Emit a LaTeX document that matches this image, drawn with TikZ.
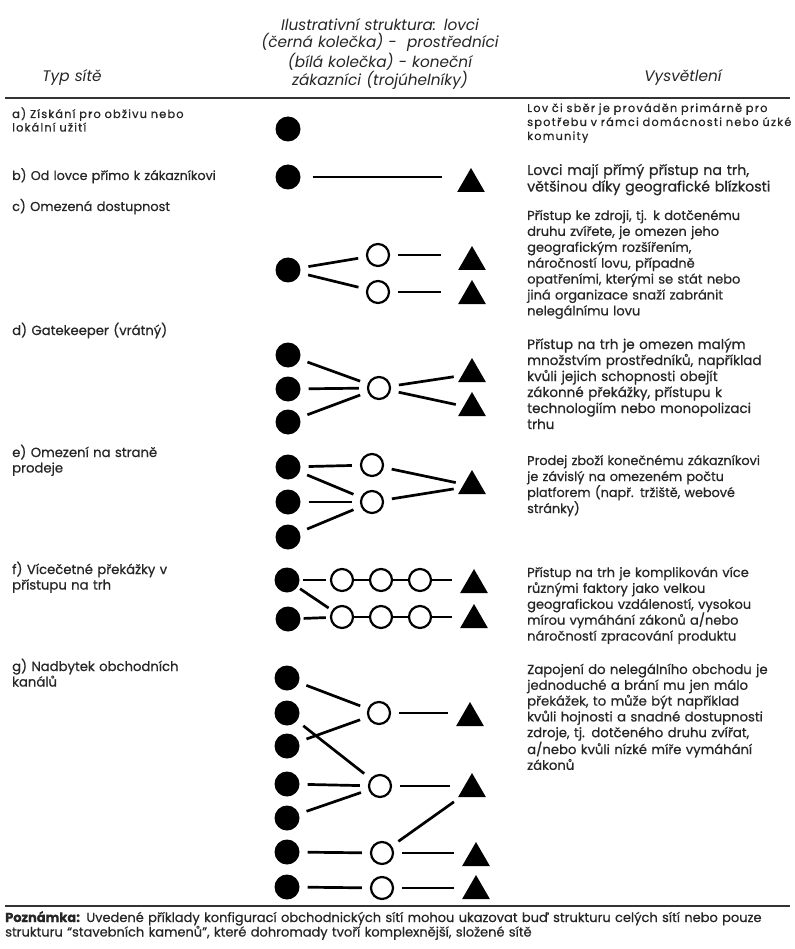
\documentclass[tikz,border=0pt]{standalone}
\usepackage{fontspec}
\setmainfont{Poppins}[FakeBold=0.6]
\newfontfamily\headfont{Poppins}
\usetikzlibrary{shapes.geometric}

\begin{document}
\begin{tikzpicture}[x=1pt,y=-1pt]
    \tikzset{hunter/.style = {shape=circle, fill=black, minimum size=25pt, inner sep=0pt}}
    \tikzset{broker/.style = {shape=circle, draw, line width=2.2pt, fill=white, minimum size=22pt, inner sep=0pt}}
    \tikzset{buyer/.style = {regular polygon, regular polygon sides=3, fill=black, minimum size=32pt, inner sep=0pt}}
    \tikzset{edge/.style = {draw, line width=2.7pt, shorten <=8pt, shorten >=8pt}}
    \tikzset{tight/.style = {shorten <=3pt, shorten >=4pt}}
    \tikzset{tail/.style = {shorten >=22pt}}
    \tikzset{kind/.style = {anchor=base west, align=left, text width=250pt, inner sep=0pt, text=black!85, font=\fontsize{13.2}{15.5}\selectfont}}
    \tikzset{why/.style = {anchor=base west, align=left, text width=300pt, inner sep=0pt, text=black!85, font=\fontsize{13}{15.9}\selectfont}}
    \tikzset{head/.style = {anchor=base, align=center, text width=300pt, inner sep=0pt, text=black!85, font=\headfont\itshape\fontsize{15.3}{17}\selectfont}}

    \useasboundingbox[fill=white] (0,0) rectangle (794,949);

    % header
    \node[head] (hs) at (380,31) {Ilustrativní struktura: lovci\\ (černá kolečka) - \ prostředníci\\ (bílá kolečka) - koneční\\ zákazníci (trojúhelníky)};
    \node[head] (ht) at (72,82) {Typ sítě};
    \node[head] (hv) at (683,82) {Vysvětlení};
    \draw[line width=2pt, black!80] (5,98) -- (790,98);

    % network types
    \node[kind, font=\fontsize{11.4}{13.5}\addfontfeature{LetterSpace=10}\selectfont] (ta) at (12,118) {a) Získání pro obživu nebo\\ lokální užití};
    \node[kind, font=\fontsize{12.7}{15.5}\selectfont] (tb) at (12,180) {b) Od lovce přímo k zákazníkovi};
    \node[kind, font=\fontsize{12.9}{15.5}\selectfont] (tc) at (12,211) {c) Omezená dostupnost};
    \node[kind] (td) at (12,335) {d) Gatekeeper (vrátný)};
    \node[kind] (te) at (12,457) {e) Omezení na straně\\ prodeje};
    \node[kind] (tf) at (12,574) {f) Vícečetné překážky v\\ přístupu na trh};
    \node[kind] (tg) at (12,671) {g) Nadbytek obchodních\\ kanálů};

    % explanations
    \node[why, font=\fontsize{11.3}{14}\addfontfeature{LetterSpace=11}\selectfont] (ea) at (527,112) {Lov či sběr je prováděn primárně pro\\ spotřebu v rámci domácnosti nebo úzké\\ komunity};
    \node[why, font=\fontsize{14.2}{16.5}\selectfont] (eb) at (527,175) {Lovci mají přímý přístup na trh,\\ většinou díky geografické blízkosti};
    \node[why] (ec) at (527,220) {Přístup ke zdroji, tj. k dotčenému\\ druhu zvířete, je omezen jeho\\ geografickým rozšířením,\\ náročností lovu, případně\\ opatřeními, kterými se stát nebo\\ jiná organizace snaží zabránit\\ nelegálnímu lovu};
    \node[why, font=\fontsize{13.5}{16}\selectfont] (ed) at (527,349) {Přístup na trh je omezen malým\\ množstvím prostředníků, například\\ kvůli jejich schopnosti obejít\\ zákonné překážky, přístupu k\\ technologiím nebo monopolizaci\\ trhu};
    \node[why, font=\fontsize{12.8}{16}\selectfont] (ee) at (527,465) {Prodej zboží konečnému zákazníkovi\\ je závislý na omezeném počtu\\ platforem (např. tržiště, webové\\ stránky)};
    \node[why] (ef) at (527,577) {Přístup na trh je komplikován více\\ různými faktory jako velkou\\ geografickou vzdáleností, vysokou\\ mírou vymáhání zákonů a/nebo\\ náročností zpracování produktu};
    \node[why, font=\fontsize{13.2}{15.8}\selectfont] (eg) at (527,674) {Zapojení do nelegálního obchodu je\\ jednoduché a brání mu jen málo\\ překážek, to může být například\\ kvůli hojnosti a snadné dostupnosti\\ zdroje, tj. dotčeného druhu zvířat,\\ a/nebo kvůli nízké míře vymáhání\\ zákonů};

    % vertices
    \node[hunter] (a1) at (288,129) {};

    \node[hunter] (b1) at (288,177) {};
    \node[buyer] (b2) at (471,184) {};

    \node[hunter] (c1) at (288,270) {};
    \node[broker] (c2) at (378,255) {};
    \node[broker] (c3) at (378,292) {};
    \node[buyer] (c4) at (472,262) {};
    \node[buyer] (c5) at (472,296) {};

    \node[hunter] (d1) at (288,355) {};
    \node[hunter] (d2) at (288,389) {};
    \node[hunter] (d3) at (288,422) {};
    \node[broker] (d4) at (379,388) {};
    \node[buyer] (d5) at (472,374) {};
    \node[buyer] (d6) at (472,408) {};

    \node[hunter] (e1) at (288,467) {};
    \node[hunter] (e2) at (288,502) {};
    \node[hunter] (e3) at (288,537) {};
    \node[broker] (e4) at (372,465) {};
    \node[broker] (e5) at (372,502) {};
    \node[buyer] (e6) at (472,486) {};

    \node[hunter] (f1) at (287,580) {};
    \node[hunter] (f2) at (288,619) {};
    \node[broker] (f3) at (342,580) {};
    \node[broker] (f4) at (381,580) {};
    \node[broker] (f5) at (420,580) {};
    \node[broker] (f6) at (342,617) {};
    \node[broker] (f7) at (381,617) {};
    \node[broker] (f8) at (420,617) {};
    \node[buyer] (f9) at (474,585) {};
    \node[buyer] (f10) at (474,620) {};

    \node[hunter] (g1) at (287,678) {};
    \node[hunter] (g2) at (287,713) {};
    \node[hunter] (g3) at (287,746) {};
    \node[hunter] (g4) at (287,784) {};
    \node[hunter] (g5) at (287,818) {};
    \node[hunter] (g6) at (287,852) {};
    \node[hunter] (g7) at (287,887) {};
    \node[broker] (g8) at (379,713) {};
    \node[broker] (g9) at (380,786) {};
    \node[broker] (g10) at (382,853) {};
    \node[broker] (g11) at (382,888) {};
    \node[buyer] (g12) at (470,718) {};
    \node[buyer] (g13) at (472,789) {};
    \node[buyer] (g14) at (476,858) {};
    \node[buyer] (g15) at (476,891) {};

    % edges
    \draw[edge, shorten <=12pt, shorten >=29pt] (b1) -- (b1 -| b2);

    \draw[edge] (c1) -- (c2);
    \draw[edge] (c1) -- (c3);
    \draw[edge, shorten >=31pt] (c2) -- (c2 -| c4);
    \draw[edge, shorten >=31pt] (c3) -- (c3 -| c5);

    \draw[edge] (d1) -- (d4);
    \draw[edge] (d2) -- (d4);
    \draw[edge] (d3) -- (d4);
    \draw[edge] (d4) -- (d5);
    \draw[edge] (d4) -- (d6);

    \draw[edge] (e1) -- (e4);
    \draw[edge] (e1) -- (e5);
    \draw[edge] (e2) -- (e5);
    \draw[edge] (e3) -- (e5);
    \draw[edge] (e4) -- (e6);
    \draw[edge] (e5) -- (e6);

    \draw[edge, tight] (f1) -- (f3);
    \draw[edge, tight] (f1) -- (f6);
    \draw[edge, tight] (f2) -- (f6);
    \draw[edge, shorten <=0pt, shorten >=0pt] (f3) -- (f4);
    \draw[edge, shorten <=0pt, shorten >=0pt] (f4) -- (f5);
    \draw[edge, shorten <=0pt, shorten >=0pt] (f6) -- (f7);
    \draw[edge, shorten <=0pt, shorten >=0pt] (f7) -- (f8);
    \draw[edge, shorten <=0pt, tail] (f5) -- (f5 -| f9);
    \draw[edge, shorten <=0pt, tail] (f8) -- (f8 -| f10);

    \draw[edge] (g1) -- (g8);
    \draw[edge] (g2) -- (g9);
    \draw[edge] (g3) -- (g8);
    \draw[edge] (g4) -- (g9);
    \draw[edge] (g5) -- (g9);
    \draw[edge] (g6) -- (g10);
    \draw[edge] (g7) -- (g11);
    \draw[edge, tail] (g8) -- (g8 -| g12);
    \draw[edge, tail] (g9) -- (g9 -| g13);
    \draw[edge] (g10) -- (g13);
    \draw[edge, tail] (g10) -- (g10 -| g14);
    \draw[edge, tail] (g11) -- (g11 -| g15);

    % footnote
    \draw[line width=1.5pt, black!80] (5,906) -- (790,906);
    \node[why, text width=900pt, font=\fontsize{13}{14.5}\selectfont] (nt) at (5,922) {\textbf{Poznámka:} Uvedené příklady konfigurací obchodnických sítí mohou ukazovat buď strukturu celých sítí nebo pouze\\ strukturu “stavebních kamenů”, které dohromady tvoří komplexnější, složené sítě};
\end{tikzpicture}
\end{document}
